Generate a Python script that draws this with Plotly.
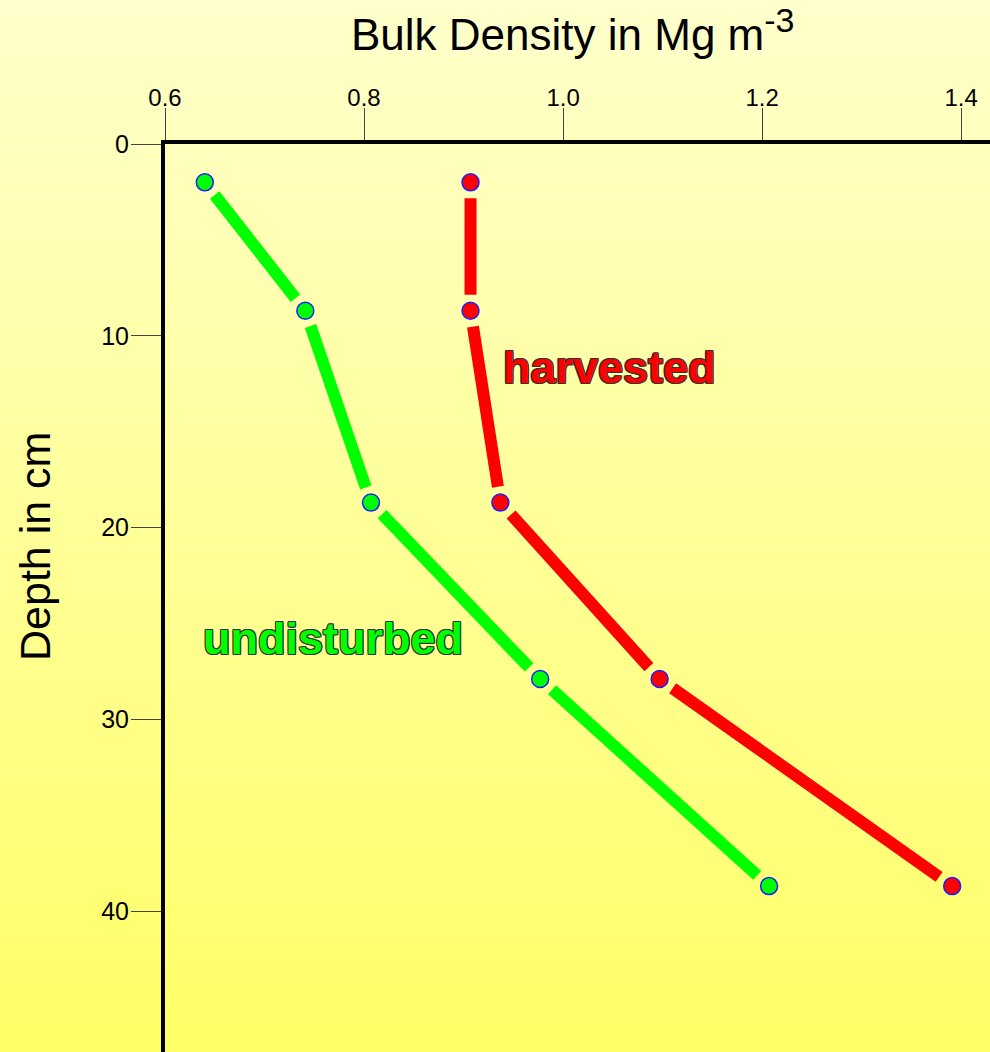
import plotly.graph_objects as go

# ---- data ----
depth_cm = [2.0, 8.7, 18.7, 27.9, 38.7]
undisturbed_bd = [0.640, 0.741, 0.807, 0.977, 1.207]
harvested_bd = [0.907, 0.907, 0.937, 1.097, 1.391]
x_ticks = [0.6, 0.8, 1.0, 1.2, 1.4]
x_ticktext = ["0.6", "0.8", "1.0", "1.2", "1.4"]
y_ticks = [0, 10, 20, 30, 40]
y_ticktext = ["0", "10", "20", "30", "40"]

W, H = 990, 1052
ML, MT = 165, 144
PW, PH = W - ML, H - MT
Y_RANGE = [47.35, 0]
X_RANGE = [0.6, 1.429]
GAP_PX = 16  # blank space left between each point and the line segments

TOP = (255, 255, 204)
BOT = (255, 255, 102)
STRIP = 2

# pixels per data unit, from the axis ranges and the plot size
SX = PW / (X_RANGE[1] - X_RANGE[0])
SY = PH / (Y_RANGE[0] - Y_RANGE[1])


def gapped_segments(xs, ys, gap):
    """Split a polyline into separate segments that stop `gap` px short of each point."""
    out_x, out_y = [], []
    for i in range(len(xs) - 1):
        dxp = (xs[i + 1] - xs[i]) * SX
        dyp = (ys[i + 1] - ys[i]) * SY
        L = (dxp ** 2 + dyp ** 2) ** 0.5
        f = gap / L
        out_x += [xs[i] + (xs[i + 1] - xs[i]) * f, xs[i + 1] - (xs[i + 1] - xs[i]) * f, None]
        out_y += [ys[i] + (ys[i + 1] - ys[i]) * f, ys[i + 1] - (ys[i + 1] - ys[i]) * f, None]
    return out_x, out_y


def color_at_px(py):
    t = min(max(py / H, 0), 1)
    c = [round(a + (b - a) * t) for a, b in zip(TOP, BOT)]
    return "rgb(%d,%d,%d)" % tuple(c)


# background gradient as overlapping horizontal strips (paper coordinates)
bg_shapes = []
for py in range(0, H, STRIP):
    y_top = 1 + (MT - py) / PH
    y_bot = 1 + (MT - (py + STRIP + 1.5)) / PH
    bg_shapes.append(dict(
        type="rect", xref="paper", yref="paper", layer="below",
        x0=-ML / PW - 0.01, x1=1.01, y0=y_bot, y1=y_top,
        fillcolor=color_at_px(py + STRIP / 2), line=dict(width=0)))

fig = go.Figure()

series = [
    ("undisturbed", undisturbed_bd, "#00ff00"),
    ("harvested", harvested_bd, "#ff0000"),
]

for name, xs, col in series:
    sx, sy = gapped_segments(xs, depth_cm, GAP_PX)
    fig.add_trace(go.Scatter(
        x=sx, y=sy, mode="lines", connectgaps=False,
        line=dict(color=col, width=12), hoverinfo="skip", showlegend=False))

for name, xs, col in series:
    fig.add_trace(go.Scatter(
        x=xs, y=depth_cm, mode="markers", name=name,
        marker=dict(size=17, color=col, line=dict(color="#2020ff", width=1.5)),
        hoverinfo="skip", showlegend=False))

outline = ("1px 1px 0 #333, -1px -1px 0 #333, 1px -1px 0 #333, -1px 1px 0 #333, "
           "0 1px 0 #333, 0 -1px 0 #333, 1px 0 0 #333, -1px 0 0 #333")

fig.update_layout(
    width=W, height=H,
    margin=dict(l=ML, r=0, t=MT, b=0, pad=0),
    paper_bgcolor="rgb(255,255,160)",
    plot_bgcolor="rgba(0,0,0,0)",
    shapes=bg_shapes,
    hovermode=False,
    xaxis=dict(side="top", range=X_RANGE, tickvals=x_ticks, ticktext=x_ticktext,
               showline=True, linewidth=4, linecolor="black", mirror=False,
               ticks="outside", ticklen=32, tickwidth=1, tickcolor="#444",
               ticklabelstandoff=-8,
               showgrid=False, zeroline=False,
               tickfont=dict(family="Arial, Liberation Sans", size=24, color="black")),
    yaxis=dict(range=Y_RANGE, tickvals=y_ticks, ticktext=y_ticktext,
               showline=True, linewidth=4, linecolor="black",
               ticks="outside", ticklen=30, tickwidth=1, tickcolor="#444",
               ticklabelstandoff=-3,
               showgrid=False, zeroline=False,
               tickfont=dict(family="Arial, Liberation Sans", size=25, color="black")),
    annotations=[
        dict(text="Bulk Density in Mg m<sup><span style='font-size:34px'>-3</span></sup>",
             xref="paper", yref="paper",
             x=(572 - ML) / PW, y=1 + (MT - 30) / PH, showarrow=False,
             xanchor="center", yanchor="middle",
             font=dict(family="Arial, Liberation Sans", size=44, color="black")),
        dict(text="Depth in cm", xref="paper", yref="paper",
             x=(35 - ML) / PW, y=1 - (547 - MT) / PH, showarrow=False, textangle=-90,
             xanchor="center", yanchor="middle",
             font=dict(family="Arial, Liberation Sans", size=43, color="black")),
        dict(text="harvested", x=1.047, y=11.67, showarrow=False,
             xanchor="center", yanchor="middle",
             font=dict(family="Arial, Liberation Sans", size=45, color="#ff0000",
                       weight="bold", shadow=outline)),
        dict(text="undisturbed", x=0.769, y=25.8, showarrow=False,
             xanchor="center", yanchor="middle",
             font=dict(family="Arial, Liberation Sans", size=45, color="#00ff00",
                       weight="bold", shadow=outline)),
    ],
)

fig.write_html("out.html", config={"displayModeBar": False},
               post_script="document.body.style.margin='0';")
